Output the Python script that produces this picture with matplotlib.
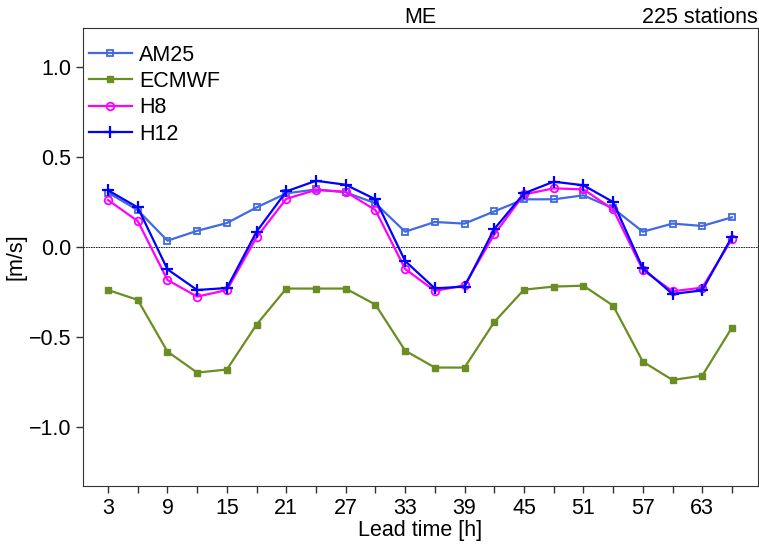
import numpy as np
import matplotlib
matplotlib.use("Agg")
import matplotlib.pyplot as plt

# Mean error of wind speed by lead time
lead_time = [3, 6, 9, 12, 15, 18, 21, 24, 27, 30, 33,
             36, 39, 42, 45, 48, 51, 54, 57, 60, 63, 66]

am25 = [0.302, 0.205, 0.035, 0.090, 0.133, 0.220, 0.298, 0.320, 0.304, 0.243, 0.085,
        0.139, 0.130, 0.198, 0.265, 0.265, 0.287, 0.215, 0.085, 0.130, 0.117, 0.165]
ecmwf = [-0.239, -0.294, -0.581, -0.698, -0.681, -0.431, -0.231, -0.231, -0.231, -0.320, -0.576,
         -0.670, -0.670, -0.417, -0.237, -0.220, -0.215, -0.326, -0.637, -0.739, -0.715, -0.448]
h8 = [0.261, 0.144, -0.183, -0.276, -0.239, 0.054, 0.268, 0.317, 0.307, 0.205, -0.122,
      -0.244, -0.213, 0.070, 0.292, 0.326, 0.320, 0.209, -0.128, -0.246, -0.226, 0.044]
h12 = [0.315, 0.220, -0.124, -0.239, -0.228, 0.085, 0.309, 0.368, 0.346, 0.265, -0.078,
       -0.230, -0.220, 0.100, 0.298, 0.363, 0.343, 0.250, -0.118, -0.261, -0.241, 0.057]

plt.rcParams['font.family'] = ['Liberation Sans', 'DejaVu Sans']
fs = 15.5

fig = plt.figure(figsize=(7.59, 5.49), dpi=100)
ax = fig.add_axes([0.1097, 0.1148, 0.8886, 0.8342])

ax.axhline(0, color='black', lw=0.6, ls=(0, (2, 1)), zorder=1)

ax.plot(lead_time, am25, color='royalblue', marker='s', mfc='none', mew=1.3, ms=5, lw=1.6, label='AM25')
ax.plot(lead_time, ecmwf, color='olivedrab', marker='s', ms=5, lw=1.6, label='ECMWF')
ax.plot(lead_time, h8, color='magenta', marker='o', mfc='none', mew=1.3, ms=5.5, lw=1.6, label='H8')
ax.plot(lead_time, h12, color='blue', marker='+', mew=1.6, ms=8, lw=1.6, label='H12')

ax.set_xlim(0.5, 68.6)
ax.set_ylim(-1.328, 1.217)
ax.set_xticks(lead_time)
ax.set_xticklabels([str(t) if i % 2 == 0 else '' for i, t in enumerate(lead_time)])
ax.set_yticks([-1.0, -0.5, 0.0, 0.5, 1.0])
ax.set_yticklabels(['\u22121.0', '\u22120.5', '0.0', '0.5', '1.0'])
ax.tick_params(labelsize=fs, length=5, width=1, color='#333333')
for sp in ax.spines.values():
    sp.set_color('#333333')

ax.set_xlabel('Lead time [h]', fontsize=fs, labelpad=1)
ax.set_ylabel('[m/s]', fontsize=fs, labelpad=2)
ax.set_title('ME', fontsize=fs, pad=2)
ax.set_title('225 stations', fontsize=fs, loc='right', pad=2)

ax.legend(loc='upper left', bbox_to_anchor=(-0.011, 0.992), frameon=False, fontsize=fs,
          handlelength=2.0, borderaxespad=0.2, labelspacing=0.25, handletextpad=0.35)

fig.savefig('out.png', dpi=100)
